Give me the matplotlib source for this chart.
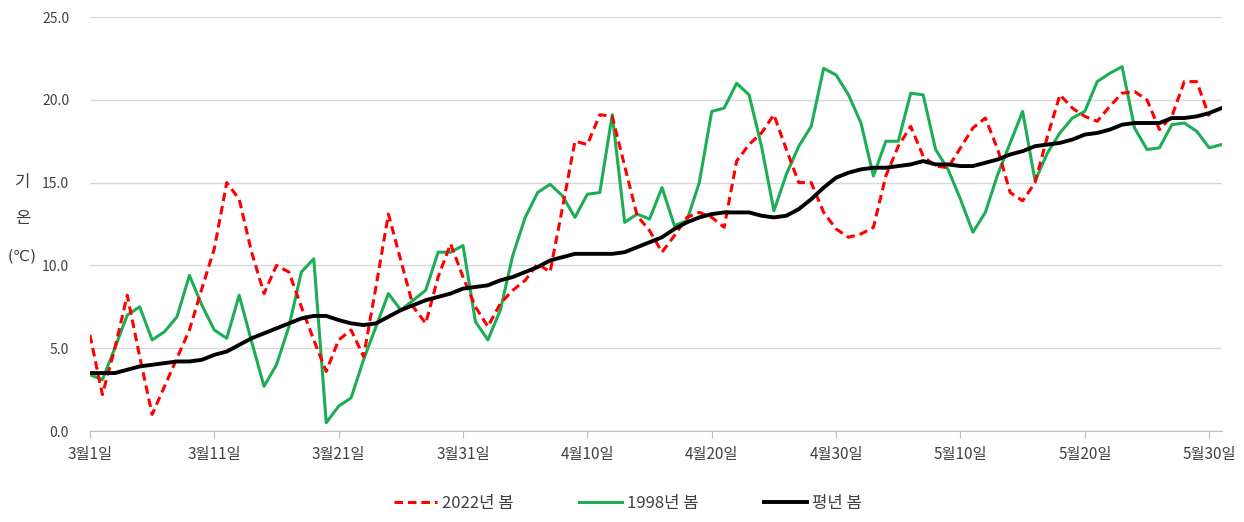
import numpy as np
import matplotlib
matplotlib.use('Agg')
import matplotlib.pyplot as plt

plt.rcParams['font.family'] = ['Noto Sans CJK KR', 'DejaVu Sans']

# 3월1일 ~ 5월31일 일평균기온
tick_labels = ['3월1일', '3월11일', '3월21일', '3월31일', '4월10일',
               '4월20일', '4월30일', '5월10일', '5월20일', '5월30일']

temp_2022 = [5.8, 2.2, 5.0, 8.2, 4.5, 1.0, 2.7, 4.4, 6.1, 8.6,
             11.0, 15.0, 14.0, 10.8, 8.3, 10.0, 9.6, 7.5, 5.5, 3.6,
             5.5, 6.1, 4.5, 8.7, 13.1, 10.3, 7.5, 6.5, 9.3, 11.3,
             9.3, 7.5, 6.3, 7.7, 8.5, 9.1, 10.1, 9.6, 13.5, 17.5,
             17.3, 19.1, 19.0, 16.0, 13.0, 12.1, 10.8, 11.8, 12.9, 13.2,
             12.9, 12.3, 16.3, 17.3, 18.0, 19.1, 17.0, 15.0, 15.0, 13.2,
             12.2, 11.7, 11.9, 12.3, 15.4, 17.2, 18.4, 16.6, 16.0, 15.9,
             17.1, 18.3, 18.9, 17.0, 14.4, 13.9, 15.0, 17.8, 20.3, 19.5,
             19.0, 18.7, 19.6, 20.4, 20.5, 20.0, 18.2, 19.0, 21.1, 21.1,
             19.0]

temp_1998 = [3.4, 3.1, 5.0, 7.0, 7.5, 5.5, 6.0, 6.9, 9.4, 7.6,
             6.1, 5.6, 8.2, 5.4, 2.7, 4.0, 6.3, 9.6, 10.4, 0.5,
             1.5, 2.0, 4.3, 6.3, 8.3, 7.3, 7.9, 8.5, 10.8, 10.8,
             11.2, 6.6, 5.5, 7.3, 10.6, 12.9, 14.4, 14.9, 14.2, 12.9,
             14.3, 14.4, 19.1, 12.6, 13.1, 12.8, 14.7, 12.4, 12.7, 15.0,
             19.3, 19.5, 21.0, 20.3, 17.2, 13.3, 15.5, 17.2, 18.4, 21.9,
             21.5, 20.3, 18.6, 15.4, 17.5, 17.5, 20.4, 20.3, 17.0, 15.8,
             14.0, 12.0, 13.2, 15.5, 17.4, 19.3, 15.1, 16.8, 18.0, 18.9,
             19.3, 21.1, 21.6, 22.0, 18.3, 17.0, 17.1, 18.5, 18.6, 18.1,
             17.1, 17.3]

temp_normal = [3.5, 3.5, 3.5, 3.7, 3.9, 4.0, 4.1, 4.2, 4.2, 4.3,
               4.6, 4.8, 5.2, 5.6, 5.9, 6.2, 6.5, 6.8, 6.95, 6.95,
               6.7, 6.5, 6.4, 6.5, 6.9, 7.3, 7.6, 7.9, 8.1, 8.3,
               8.6, 8.7, 8.8, 9.1, 9.3, 9.6, 9.9, 10.3, 10.5, 10.7,
               10.7, 10.7, 10.7, 10.8, 11.1, 11.4, 11.7, 12.2, 12.6, 12.9,
               13.1, 13.2, 13.2, 13.2, 13.0, 12.9, 13.0, 13.4, 14.0, 14.7,
               15.3, 15.6, 15.8, 15.9, 15.9, 16.0, 16.1, 16.3, 16.1, 16.1,
               16.0, 16.0, 16.2, 16.4, 16.7, 16.9, 17.2, 17.3, 17.4, 17.6,
               17.9, 18.0, 18.2, 18.5, 18.6, 18.6, 18.6, 18.9, 18.9, 19.0,
               19.2, 19.5]

fig = plt.figure(figsize=(12.44, 5.22), dpi=100)
ax = fig.add_axes([0.0723, 0.1743, 0.9097, 0.7931])

ax.plot(np.arange(len(temp_2022)), temp_2022, color='#FF0000', lw=2.2,
        linestyle=(0, (2.8, 1.6)), label='2022년 봄', zorder=3)
ax.plot(np.arange(len(temp_1998)), temp_1998, color='#1DAE55', lw=2.2,
        label='1998년 봄', zorder=2)
ax.plot(np.arange(len(temp_normal)), temp_normal, color='black', lw=2.8,
        label='평년 봄', zorder=4)

ax.set_xlim(0, 91)
ax.set_ylim(0, 25)
ax.set_yticks(np.arange(0, 26, 5))
ax.set_yticklabels([f'{v:.1f}' for v in np.arange(0, 26, 5)])
ax.set_xticks(np.arange(0, 91, 10))
ax.set_xticklabels(tick_labels)

ax.grid(axis='y', color='#D9D9D9', lw=1)
ax.set_axisbelow(True)
for s in ['top', 'right', 'left']:
    ax.spines[s].set_visible(False)
ax.spines['bottom'].set_color('#BFBFBF')
ax.tick_params(axis='y', length=0, pad=15, labelsize=10, colors='#404040')
ax.tick_params(axis='x', length=5, color='#BFBFBF', pad=6, labelsize=11,
               labelcolor='#404040')

fig.text(0.018, 0.65, '기', fontsize=12, color='#404040', ha='center', va='center')
fig.text(0.018, 0.582, '온', fontsize=12, color='#404040', ha='center', va='center')
fig.text(0.018, 0.51, '(℃)', fontsize=11, color='#404040', ha='center', va='center',
         family=['DejaVu Sans'])

fig.legend(loc='lower center', bbox_to_anchor=(0.505, -0.01), ncol=3, frameon=False,
           fontsize=12, columnspacing=3.9, handlelength=2.6, handletextpad=0.3,
           labelcolor='#404040')

fig.savefig('out.png', dpi=100)
